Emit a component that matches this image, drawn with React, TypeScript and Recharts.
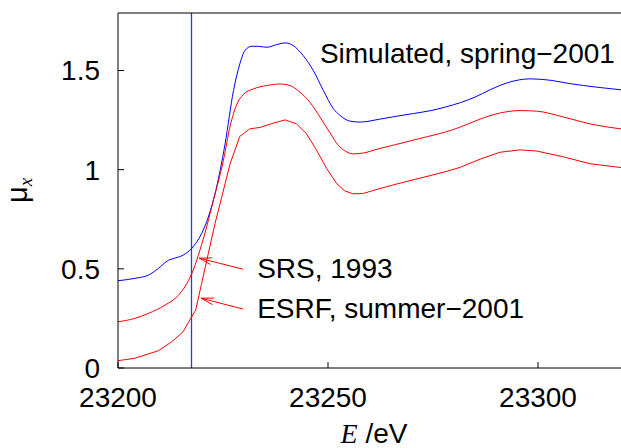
import React from 'react';
import { LineChart, Line, XAxis, YAxis, ReferenceLine, ReferenceDot } from 'recharts';

const xTicks = [23200, 23250, 23300];
const yTicks = [0, 0.5, 1, 1.5];
const xDomain = [23200, 23320];
const yDomain = [0, 1.79];

const simulated = [
  { e: 23200, mu: 0.44 }, { e: 23204, mu: 0.452 }, { e: 23207.2, mu: 0.468 }, { e: 23209.6, mu: 0.502 },
  { e: 23212, mu: 0.543 }, { e: 23213.2, mu: 0.552 }, { e: 23215.5, mu: 0.569 }, { e: 23217.5, mu: 0.602 },
  { e: 23219.9, mu: 0.678 }, { e: 23221.5, mu: 0.761 }, { e: 23223.3, mu: 0.896 }, { e: 23225.5, mu: 1.131 },
  { e: 23227.5, mu: 1.399 }, { e: 23229, mu: 1.533 }, { e: 23230.2, mu: 1.6 }, { e: 23231.8, mu: 1.622 },
  { e: 23233.5, mu: 1.622 }, { e: 23235.4, mu: 1.617 }, { e: 23237.8, mu: 1.631 }, { e: 23239.8, mu: 1.639 },
  { e: 23241.7, mu: 1.626 }, { e: 23244.1, mu: 1.575 }, { e: 23246.5, mu: 1.5 }, { e: 23248.9, mu: 1.399 },
  { e: 23251.3, mu: 1.307 }, { e: 23252.9, mu: 1.273 }, { e: 23255.2, mu: 1.245 }, { e: 23257.6, mu: 1.24 },
  { e: 23262.4, mu: 1.255 }, { e: 23266.5, mu: 1.27 }, { e: 23270.3, mu: 1.283 }, { e: 23274.5, mu: 1.298 },
  { e: 23278.3, mu: 1.318 }, { e: 23281.5, mu: 1.338 }, { e: 23285, mu: 1.366 }, { e: 23288.6, mu: 1.403 },
  { e: 23293.3, mu: 1.442 }, { e: 23298.1, mu: 1.458 }, { e: 23302.9, mu: 1.451 }, { e: 23307.6, mu: 1.434 },
  { e: 23314, mu: 1.416 }, { e: 23320, mu: 1.402 },
];

const srs1993 = [
  { e: 23200, mu: 0.233 }, { e: 23204, mu: 0.25 }, { e: 23207.2, mu: 0.275 }, { e: 23211.2, mu: 0.317 },
  { e: 23214.4, mu: 0.367 }, { e: 23216.4, mu: 0.426 }, { e: 23217.9, mu: 0.493 }, { e: 23219.5, mu: 0.594 },
  { e: 23221.1, mu: 0.711 }, { e: 23222.7, mu: 0.845 }, { e: 23225.1, mu: 1.047 }, { e: 23226.7, mu: 1.22 },
  { e: 23228.3, mu: 1.33 }, { e: 23229.8, mu: 1.378 }, { e: 23232.2, mu: 1.407 }, { e: 23235.4, mu: 1.424 },
  { e: 23238.6, mu: 1.432 }, { e: 23241, mu: 1.424 }, { e: 23243.3, mu: 1.391 }, { e: 23245.7, mu: 1.34 },
  { e: 23248.1, mu: 1.265 }, { e: 23250.5, mu: 1.185 }, { e: 23252.5, mu: 1.122 }, { e: 23254, mu: 1.095 },
  { e: 23256, mu: 1.08 }, { e: 23258.4, mu: 1.084 }, { e: 23262, mu: 1.105 }, { e: 23266.4, mu: 1.128 },
  { e: 23270.5, mu: 1.15 }, { e: 23274.3, mu: 1.17 }, { e: 23278, mu: 1.19 }, { e: 23281.5, mu: 1.215 },
  { e: 23286.2, mu: 1.255 }, { e: 23291, mu: 1.286 }, { e: 23295.7, mu: 1.298 }, { e: 23299.7, mu: 1.295 },
  { e: 23306, mu: 1.266 }, { e: 23312.4, mu: 1.231 }, { e: 23320, mu: 1.205 },
];

const esrf2001 = [
  { e: 23200, mu: 0.037 }, { e: 23204, mu: 0.049 }, { e: 23209.6, mu: 0.087 }, { e: 23212.8, mu: 0.132 },
  { e: 23215.5, mu: 0.183 }, { e: 23217.1, mu: 0.242 }, { e: 23218.5, mu: 0.292 }, { e: 23219.9, mu: 0.426 },
  { e: 23221.5, mu: 0.577 }, { e: 23223.1, mu: 0.728 }, { e: 23224.7, mu: 0.862 }, { e: 23226.7, mu: 1.03 },
  { e: 23229, mu: 1.168 }, { e: 23231.4, mu: 1.206 }, { e: 23233.8, mu: 1.213 }, { e: 23237, mu: 1.235 },
  { e: 23239.8, mu: 1.251 }, { e: 23242.5, mu: 1.231 }, { e: 23244.9, mu: 1.181 }, { e: 23247.3, mu: 1.097 },
  { e: 23249.7, mu: 1.005 }, { e: 23252.1, mu: 0.929 }, { e: 23254, mu: 0.893 }, { e: 23256, mu: 0.878 },
  { e: 23258.4, mu: 0.88 }, { e: 23262, mu: 0.903 }, { e: 23266.4, mu: 0.928 }, { e: 23270.5, mu: 0.95 },
  { e: 23274.3, mu: 0.97 }, { e: 23278, mu: 0.99 }, { e: 23281.5, mu: 1.012 }, { e: 23286.2, mu: 1.053 },
  { e: 23291, mu: 1.088 }, { e: 23295.7, mu: 1.1 }, { e: 23299.7, mu: 1.094 }, { e: 23306, mu: 1.065 },
  { e: 23312.4, mu: 1.03 }, { e: 23320, mu: 1.01 },
];

const edgeMarker = 23217.5;
const edgeLine = [
  { e: edgeMarker, mu: yDomain[0] },
  { e: edgeMarker, mu: yDomain[1] },
];

const arrowNotes = [
  { label: 'SRS, 1993', from: { e: 23229.8, mu: 0.498 }, to: { e: 23219.3, mu: 0.554 } },
  { label: 'ESRF, summer\u22122001', from: { e: 23229.8, mu: 0.297 }, to: { e: 23219.8, mu: 0.352 } },
];

const titleNote = { label: 'Simulated, spring\u22122001', e: 23318.3, mu: 1.537 };

const SANS = '"Liberation Sans", Arial, Helvetica, sans-serif';
const SERIF = '"Liberation Serif", "Times New Roman", serif';
const FS = 28;

const arrowShape = (label: string) => (props: any) => {
  const { x1, y1, x2, y2 } = props;
  const ang = Math.atan2(y2 - y1, x2 - x1);
  const L = 13;
  const a = (15 * Math.PI) / 180;
  const h1x = x2 - L * Math.cos(ang - a);
  const h1y = y2 - L * Math.sin(ang - a);
  const h2x = x2 - L * Math.cos(ang + a);
  const h2y = y2 - L * Math.sin(ang + a);
  return (
    <g>
      <line x1={x1} y1={y1} x2={x2} y2={y2} stroke="#ff0000" strokeWidth={1} />
      <polyline points={`${h1x},${h1y} ${x2},${y2} ${h2x},${h2y}`} fill="none" stroke="#ff0000" strokeWidth={1} />
      <text x={x1 + 14} y={y1 + 9} fontFamily={SANS} fontSize={FS} fill="#000">{label}</text>
    </g>
  );
};

const XLabel = (props: any) => {
  const vb = props.viewBox || {};
  const cx = vb.x + vb.width / 2 + 4;
  return (
    <text x={cx} y={vb.y + 75} textAnchor="middle" fontSize={FS} fill="#000">
      <tspan fontFamily={SERIF} fontStyle="italic">E</tspan>
      <tspan fontFamily={SANS}> /eV</tspan>
    </text>
  );
};

const YLabel = (props: any) => {
  const vb = props.viewBox || {};
  const cy = vb.y + vb.height / 2;
  return (
    <text transform={`translate(27, ${cy}) rotate(-90)`} textAnchor="middle" fontSize={29} fill="#000">
      <tspan fontFamily={SANS}>μ</tspan>
      <tspan fontFamily={SERIF} fontStyle="italic" fontSize={19} dy={5}>x</tspan>
    </text>
  );
};

export default function App() {
  return (
    <div style={{ position: 'absolute', left: 0, top: 0, background: '#fff' }}>
      <LineChart width={630} height={448} margin={{ top: 0, right: 0, bottom: 0, left: 0 }}>
        <XAxis
          dataKey="e"
          type="number"
          domain={xDomain}
          ticks={xTicks}
          allowDataOverflow
          height={80}
          stroke="#000"
          tickSize={-6}
          tickMargin={25}
          tick={{ fill: '#000', fontSize: FS, fontFamily: SANS }}
          label={{ content: XLabel }}
        />
        <XAxis
          xAxisId="top"
          orientation="top"
          type="number"
          domain={xDomain}
          ticks={xTicks}
          allowDataOverflow
          height={13}
          stroke="#000"
          tickSize={-6}
          tick={false}
        />
        <YAxis
          type="number"
          domain={yDomain}
          ticks={yTicks}
          allowDataOverflow
          width={118}
          stroke="#000"
          tickSize={-6}
          tickMargin={24}
          tick={{ fill: '#000', fontSize: FS, fontFamily: SANS }}
          label={{ content: YLabel }}
        />
        <YAxis
          yAxisId="right"
          orientation="right"
          type="number"
          domain={yDomain}
          ticks={yTicks}
          allowDataOverflow
          width={8}
          stroke="#000"
          tickSize={-6}
          tick={false}
        />
        <Line data={edgeLine} dataKey="mu" type="linear" stroke="#3030ff" strokeWidth={1.3} dot={false} isAnimationActive={false} />
        <Line data={simulated} dataKey="mu" type="monotone" stroke="#0000ff" strokeWidth={1} dot={false} isAnimationActive={false} />
        <Line data={srs1993} dataKey="mu" type="monotone" stroke="#ff0000" strokeWidth={1} dot={false} isAnimationActive={false} />
        <Line data={esrf2001} dataKey="mu" type="linear" stroke="#ff0000" strokeWidth={1} dot={false} isAnimationActive={false} />
        {arrowNotes.map((n) => (
          <ReferenceLine
            key={n.label}
            segment={[{ x: n.from.e, y: n.from.mu }, { x: n.to.e, y: n.to.mu }]}
            shape={arrowShape(n.label)}
            ifOverflow="visible"
          />
        ))}
        <ReferenceDot
          x={titleNote.e}
          y={titleNote.mu}
          r={0}
          ifOverflow="visible"
          shape={(p: any) => (
            <text x={p.cx} y={p.cy} textAnchor="end" fontFamily={SANS} fontSize={FS} fill="#000">{titleNote.label}</text>
          )}
        />
      </LineChart>
    </div>
  );
}
